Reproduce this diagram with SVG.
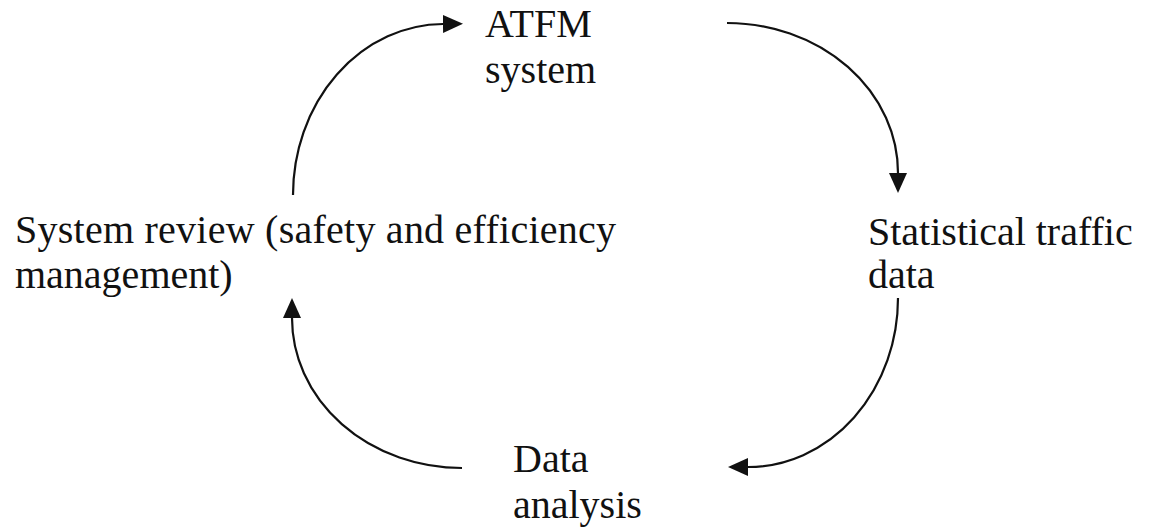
<svg xmlns="http://www.w3.org/2000/svg" width="1153" height="530" viewBox="0 0 1153 530">
<style>
text{font-family:"Liberation Serif","Times New Roman",serif;font-size:40px;fill:#111;}
.c{fill:none;stroke:#111;stroke-width:2.2;marker-end:url(#ah);}
</style>
<defs>
<marker id="ah" markerUnits="userSpaceOnUse" markerWidth="20" markerHeight="18" refX="0" refY="9" orient="auto" viewBox="0 0 20 18">
<path d="M0,0 L20,9 L0,18 z" fill="#111"/>
</marker>
</defs>
<rect width="1153" height="530" fill="#fff"/>
<g id="connectors">
<path class="c" d="M293,195 A151,171 0 0 1 443,24"/>
<path class="c" d="M727,23 A171,150 0 0 1 898,173"/>
<path class="c" d="M898,298 A150,169 0 0 1 748,467"/>
<path class="c" d="M462,468 A170,150 0 0 1 292,318"/>
</g>
<g id="atfm"><text x="485" y="37">ATFM</text><text x="485" y="83">system</text></g>
<g id="stats"><text x="868" y="245">Statistical traffic</text><text x="868" y="288">data</text></g>
<g id="analysis"><text x="513" y="472">Data</text><text x="513" y="518">analysis</text></g>
<g id="review"><text x="15" y="243" textLength="601" lengthAdjust="spacing">System review (safety and efficiency</text><text x="15" y="288">management)</text></g>
</svg>
